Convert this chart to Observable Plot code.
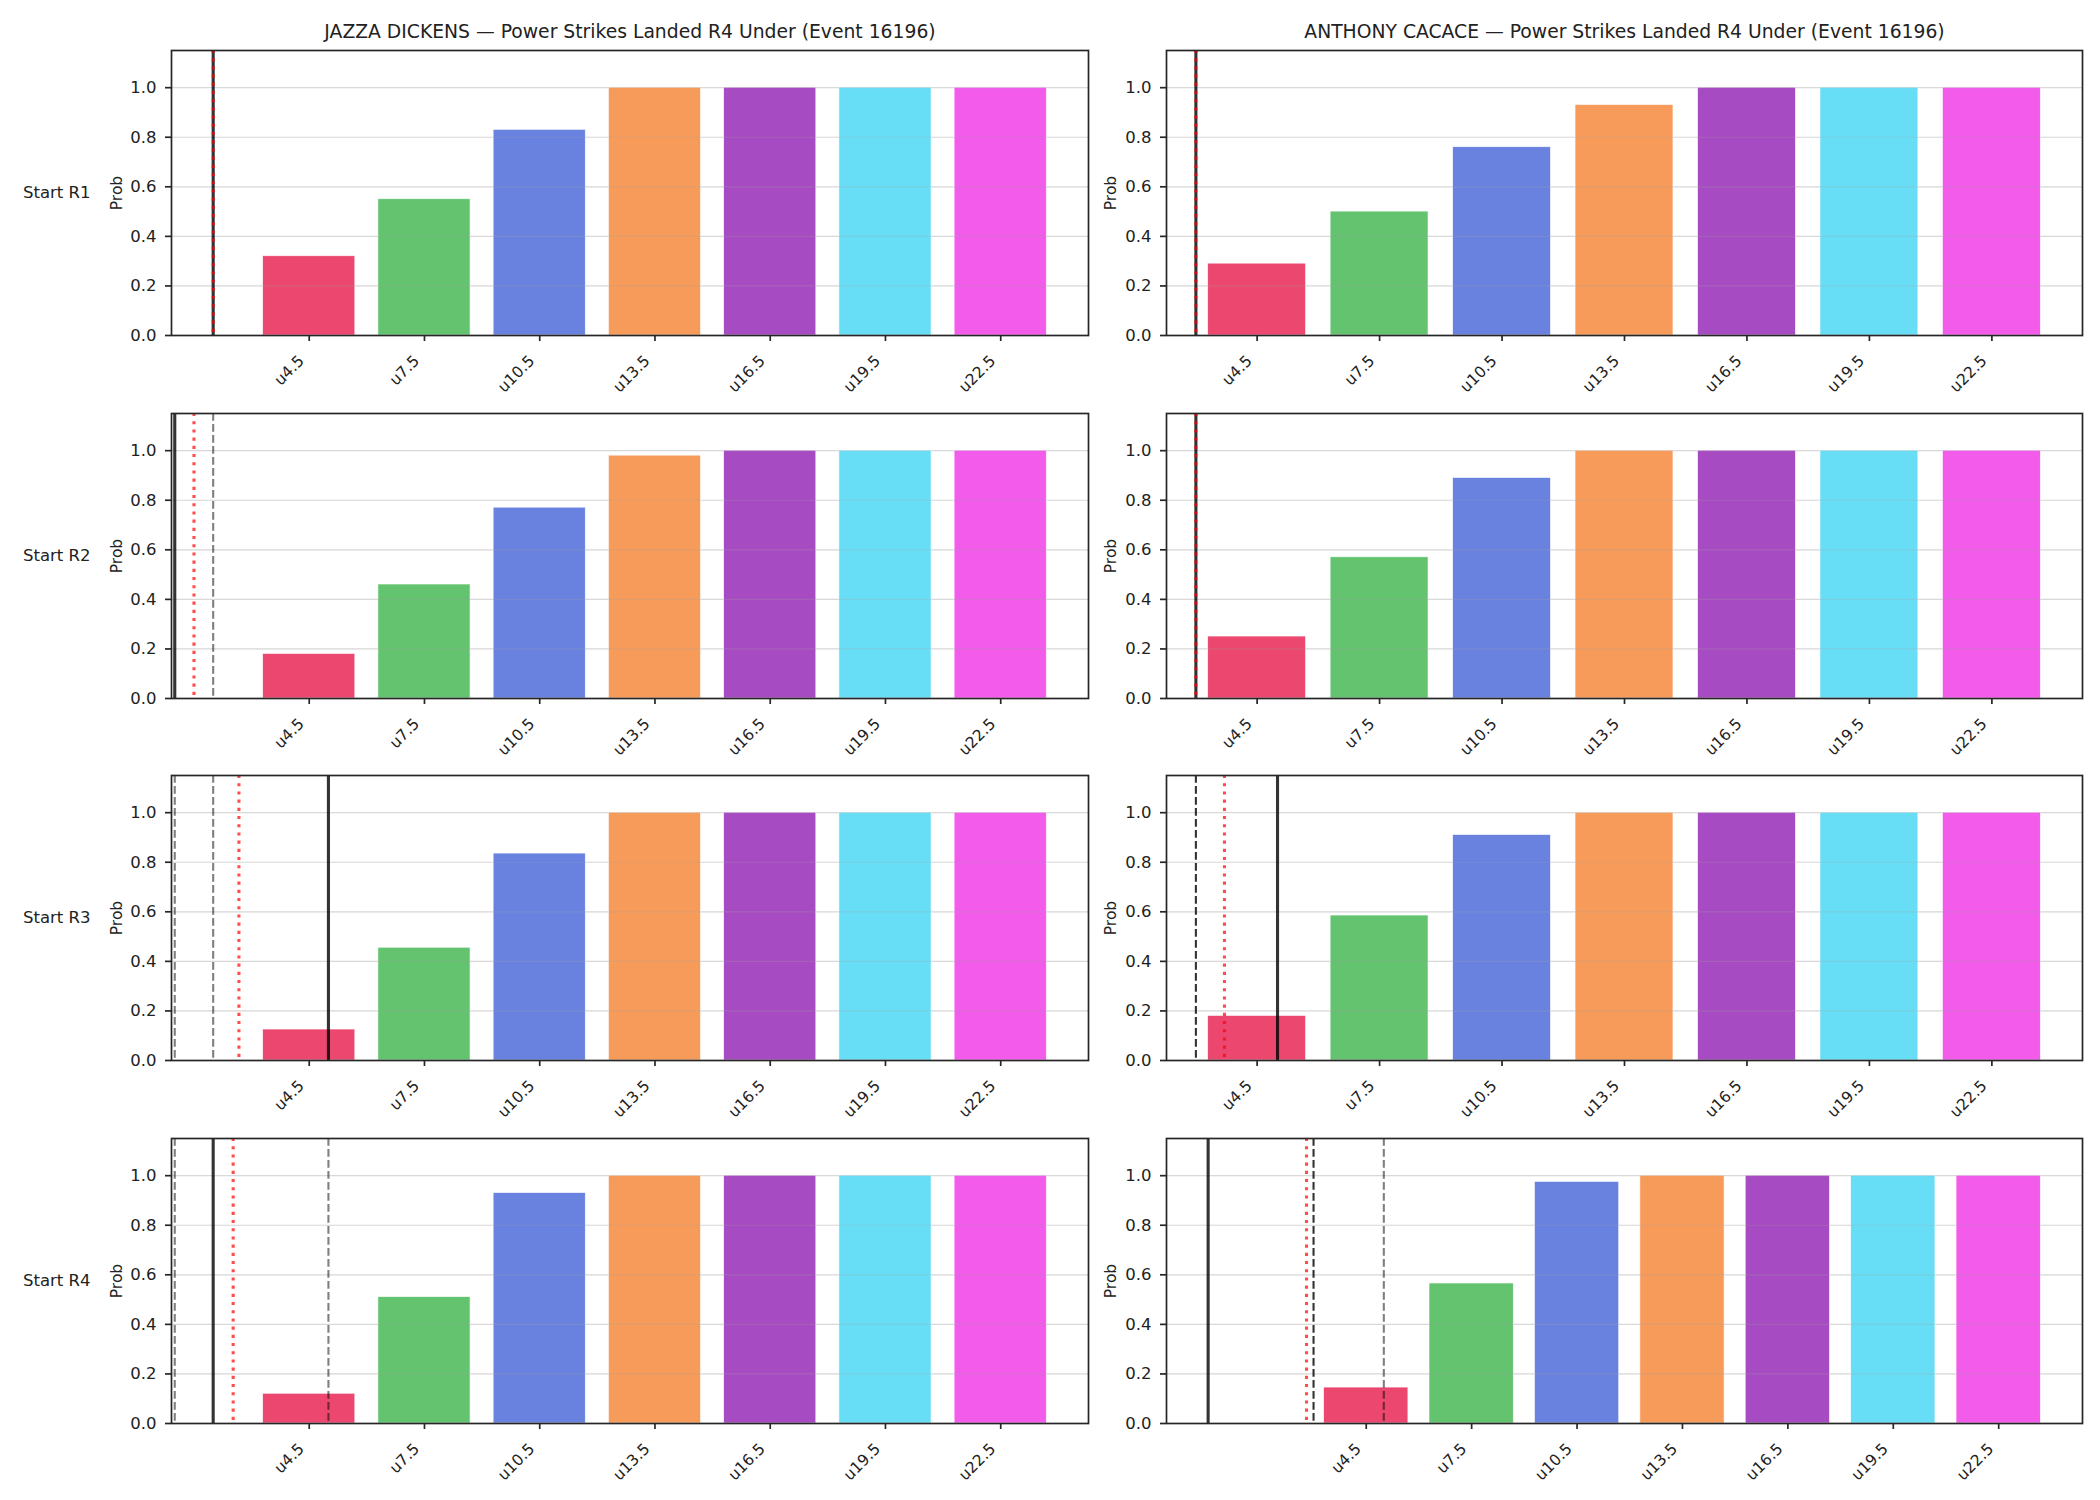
<!DOCTYPE html>
<html>
<head>
<meta charset="utf-8">
<script src="https://cdn.jsdelivr.net/npm/d3@7"></script>
<script src="https://cdn.jsdelivr.net/npm/@observablehq/plot@0.6"></script>
<style>
  body { margin: 0; background: #fff; }
  #fig { position: relative; width: 2100px; height: 1500px; font-family: "DejaVu Sans", sans-serif; }
  #fig svg { position: absolute; }
</style>
</head>
<body>
<div id="fig"></div>
<script>
// ---- data ----
const fighters = ["JAZZA DICKENS", "ANTHONY CACACE"];
const market = "Power Strikes Landed R4 Under";
const eventId = 16196;
const rounds = ["Start R1", "Start R2", "Start R3", "Start R4"];
const thresholds = [4.5, 7.5, 10.5, 13.5, 16.5, 19.5, 22.5];
const thresholdLabels = ["u4.5", "u7.5", "u10.5", "u13.5", "u16.5", "u19.5", "u22.5"];
const barColors = ["#e6194b", "#3cb44b", "#4363d8", "#f58231", "#911eb4", "#42d4f4", "#f032e6"];
const yTicks = [0, 0.2, 0.4, 0.6, 0.8, 1.0];

// P(under) per threshold, one row per starting round
const probDickens = [
  [0.32, 0.55, 0.83, 1.00, 1.00, 1.00, 1.00],
  [0.18, 0.46, 0.77, 0.98, 1.00, 1.00, 1.00],
  [0.125, 0.455, 0.835, 1.00, 1.00, 1.00, 1.00],
  [0.12, 0.51, 0.93, 1.00, 1.00, 1.00, 1.00]
];
const probCacace = [
  [0.29, 0.50, 0.76, 0.93, 1.00, 1.00, 1.00],
  [0.25, 0.57, 0.89, 1.00, 1.00, 1.00, 1.00],
  [0.18, 0.585, 0.91, 1.00, 1.00, 1.00, 1.00],
  [0.145, 0.565, 0.975, 1.00, 1.00, 1.00, 1.00]
];

// reference markers (value + line kind) per starting round
const markersDickens = [
  [{v: 2, kind: "solid"}, {v: 2, kind: "dotted"}],
  [{v: 1, kind: "solid"}, {v: 2, kind: "gray"}, {v: 1.5, kind: "dotted"}],
  [{v: 1, kind: "gray"}, {v: 2, kind: "gray"}, {v: 5, kind: "solid"}, {v: 2.67, kind: "dotted"}],
  [{v: 1, kind: "gray"}, {v: 2, kind: "solid"}, {v: 5, kind: "gray"}, {v: 2.52, kind: "dotted"}]
];
const markersCacace = [
  [{v: 3, kind: "solid"}, {v: 3, kind: "dotted"}],
  [{v: 3, kind: "solid"}, {v: 3, kind: "dotted"}],
  [{v: 3, kind: "dashed"}, {v: 5, kind: "solid"}, {v: 3.7, kind: "dotted"}],
  [{v: 0, kind: "solid"}, {v: 3, kind: "dashed"}, {v: 5, kind: "gray"}, {v: 2.8, kind: "dotted"}]
];

// x limits of each panel [column][row]
const xLimits = [
  [[0.915, 24.785], [0.915, 24.785], [0.915, 24.785], [0.915, 24.785]],
  [[2.28, 24.72], [2.28, 24.72], [2.28, 24.72], [-1.185, 24.885]]
];

// ---- styling ----
const ink = "#222";
const spine = "#262626";
const barWidth = 2.4;
const lineStyles = {
  solid:  {stroke: "#000", strokeOpacity: 0.8, strokeWidth: 3.1},
  dashed: {stroke: "#000", strokeOpacity: 0.8, strokeWidth: 2.1, strokeDasharray: "7.7,3.3"},
  gray:   {stroke: "#000", strokeOpacity: 0.5, strokeWidth: 2.1, strokeDasharray: "7.7,3.3"},
  dotted: {stroke: "red", strokeOpacity: 0.7, strokeWidth: 3.1, strokeDasharray: "3.1,5.1"}
};

const columns = [
  {left: 0, width: 1100, marginLeft: 171, marginRight: 12, probLabelDx: -54},
  {left: 1100, width: 1000, marginLeft: 66, marginRight: 18, probLabelDx: -55}
];
const frameHeight = 285, marginTop = 50, marginBottom = 70, rowStep = 362.6;

const fig = document.getElementById("fig");

function panel(col, row) {
  const probs = col === 0 ? probDickens[row] : probCacace[row];
  const markers = col === 0 ? markersDickens[row] : markersCacace[row];
  const bars = thresholds.map((t, i) => ({t, p: probs[i], color: barColors[i], label: thresholdLabels[i]}));
  const c = columns[col];

  const marks = [
    Plot.gridY(yTicks, {stroke: "#b0b0b0", strokeOpacity: 0.3, strokeWidth: 1.2}),
    Plot.rect(bars, {
      x1: d => d.t - barWidth / 2, x2: d => d.t + barWidth / 2,
      y1: 0, y2: "p",
      fill: d => d.color, fillOpacity: 0.8,
      stroke: "white", strokeWidth: 0.8, strokeOpacity: 0.8
    }),
    Plot.gridY(yTicks, {stroke: "#b0b0b0", strokeOpacity: 0.25, strokeWidth: 1.2})
  ];
  // gray dashes first, then dark dashes, solid, dotted on top
  for (const kind of ["gray", "dashed", "solid", "dotted"]) {
    const sel = markers.filter(m => m.kind === kind);
    if (sel.length) marks.push(Plot.ruleX(sel, {x: "v", ...lineStyles[kind]}));
  }
  marks.push(
    Plot.frame({stroke: spine, strokeWidth: 1.7}),
    Plot.axisY({ticks: yTicks, tickFormat: d3.format(".1f"), tickSize: 6, tickPadding: 9,
                fontSize: 16.5, color: ink, stroke: spine, strokeWidth: 1.7, label: null}),
    Plot.axisX({ticks: thresholds, tickFormat: () => "", tickSize: 6, stroke: spine,
                strokeWidth: 1.7, label: null}),
    Plot.text(bars, {x: "t", text: "label", frameAnchor: "bottom", dx: -12, dy: 18.5,
                     rotate: -45, textAnchor: "end", lineAnchor: "top", fontSize: 15.5, fill: ink}),
    Plot.text(["Prob"], {frameAnchor: "left", dx: c.probLabelDx, rotate: -90,
                         textAnchor: "middle", lineAnchor: "middle", fontSize: 15.5, fill: ink})
  );
  if (col === 0) {
    marks.push(Plot.text([rounds[row]], {frameAnchor: "left", dx: -81, textAnchor: "end",
                                         lineAnchor: "middle", fontSize: 16.5, fill: ink}));
  }
  if (row === 0) {
    marks.push(Plot.text([`${fighters[col]} — ${market} (Event ${eventId})`], {
      frameAnchor: "top", dy: -12.5, lineAnchor: "bottom", fontSize: 18.75, fill: ink
    }));
  }

  const svg = Plot.plot({
    width: c.width,
    height: marginTop + frameHeight + marginBottom,
    marginLeft: c.marginLeft, marginRight: c.marginRight,
    marginTop, marginBottom,
    style: "background: transparent; overflow: visible; font-family: 'DejaVu Sans', sans-serif;",
    x: {domain: xLimits[col][row], axis: null},
    y: {domain: [0, 1.15], axis: null},
    marks
  });
  svg.style.left = c.left + "px";
  svg.style.top = (row * rowStep) + "px";
  fig.appendChild(svg);
}

for (let row = 0; row < 4; row++) {
  for (let col = 0; col < 2; col++) panel(col, row);
}
</script>
</body>
</html>
